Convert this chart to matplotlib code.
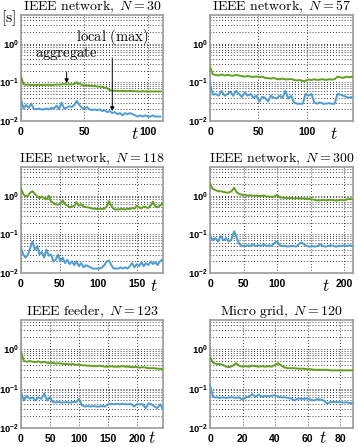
import matplotlib
matplotlib.use('Agg')
from matplotlib import pyplot as plt
from matplotlib.ticker import LogLocator, NullFormatter, FixedLocator

plt.rcParams['mathtext.fontset'] = 'cm'
plt.rcParams['font.family'] = ['Liberation Sans', 'DejaVu Sans']

# --- Data

TITLES = [r'$\mathrm{IEEE\ network,}\ N = 30$', r'$\mathrm{IEEE\ network,}\ N = 57$',
          r'$\mathrm{IEEE\ network,}\ N = 118$', r'$\mathrm{IEEE\ network,}\ N = 300$',
          r'$\mathrm{IEEE\ feeder,}\ N = 123$', r'$\mathrm{Micro\ grid,}\ N = 120$']

XMAX = [112, 148, 184, 213, 245, 88]
XTICKS = [[0, 50, 100], [0, 50, 100], [0, 50, 100, 150], [0, 50, 100, 150, 200],
          [0, 50, 100, 150, 200], [0, 20, 40, 60, 80]]
XTICKLABELS = [['0', '50', '100'], ['0', '50', '100'], ['0', '50', '100', '150'],
               ['0', '50', '100', '', '200'], ['0', '50', '100', '150', '200'],
               ['0', '20', '40', '60', '80']]
YTICKLABELS = [r'$\mathdefault{10^{-2}}$', r'$\mathdefault{10^{-1}}$', r'$\mathdefault{10^{0}}$']

# panel 1: IEEE network N=30
t1 = list(range(0, 112, 2))
agg1 = [0.14, 0.09, 0.086, 0.088, 0.085, 0.086, 0.085, 0.087, 0.085, 0.086, 0.086, 0.087, 0.085, 0.086,
        0.088, 0.087, 0.088, 0.09, 0.088, 0.089, 0.088, 0.09, 0.1, 0.092, 0.086, 0.084, 0.083, 0.082,
        0.08, 0.081, 0.078, 0.077, 0.077, 0.072, 0.07, 0.063, 0.061, 0.06, 0.06, 0.059, 0.06, 0.059,
        0.059, 0.06, 0.059, 0.059, 0.058, 0.058, 0.059, 0.058, 0.058, 0.058, 0.058, 0.058, 0.058, 0.058]
loc1 = [0.036, 0.021, 0.026, 0.022, 0.028, 0.021, 0.02, 0.021, 0.02, 0.02, 0.021, 0.02, 0.022, 0.021,
        0.025, 0.02, 0.03, 0.021, 0.022, 0.024, 0.023, 0.026, 0.033, 0.026, 0.022, 0.021, 0.023, 0.02,
        0.019, 0.02, 0.019, 0.02, 0.018, 0.019, 0.017, 0.018, 0.016, 0.017, 0.015, 0.016, 0.014, 0.016,
        0.015, 0.016, 0.015, 0.014, 0.013, 0.014, 0.013, 0.014, 0.013, 0.013, 0.014, 0.013, 0.013, 0.013]

# panel 2: IEEE network N=57
t2 = list(range(0, 148, 3))
agg2 = [0.25, 0.16, 0.155, 0.15, 0.16, 0.15, 0.155, 0.15, 0.148, 0.155, 0.15, 0.145, 0.14, 0.145,
        0.14, 0.138, 0.142, 0.135, 0.14, 0.13, 0.128, 0.125, 0.13, 0.122, 0.12, 0.125, 0.118, 0.12,
        0.122, 0.115, 0.112, 0.115, 0.108, 0.11, 0.118, 0.115, 0.12, 0.115, 0.118, 0.12, 0.115, 0.12,
        0.118, 0.12, 0.14, 0.135, 0.13, 0.14, 0.135, 0.14]
loc2 = [0.09, 0.048, 0.05, 0.045, 0.06, 0.045, 0.05, 0.058, 0.045, 0.06, 0.05, 0.042, 0.055, 0.045,
        0.05, 0.04, 0.045, 0.032, 0.042, 0.04, 0.032, 0.045, 0.04, 0.038, 0.045, 0.04, 0.06, 0.038,
        0.045, 0.03, 0.028, 0.028, 0.028, 0.05, 0.045, 0.05, 0.03, 0.028, 0.03, 0.028, 0.028, 0.029,
        0.028, 0.028, 0.05, 0.048, 0.045, 0.042, 0.04, 0.042]

# panel 3: IEEE network N=118
t3 = list(range(0, 184, 3))
agg3 = [1.5, 1.1, 0.95, 1.0, 1.2, 1.3, 1.1, 0.95, 0.85, 0.95, 0.85, 0.8, 1.0, 0.7, 0.65, 0.6,
        0.58, 0.62, 0.75, 0.6, 0.55, 0.5, 0.52, 0.55, 0.68, 0.55, 0.6, 0.52, 0.5, 0.5, 0.48, 0.46,
        0.46, 0.45, 0.46, 0.45, 0.46, 0.52, 0.72, 0.55, 0.45, 0.44, 0.44, 0.45, 0.45, 0.44, 0.46,
        0.45, 0.48, 0.46, 0.55, 0.5, 0.47, 0.52, 0.5, 0.48, 0.55, 0.7, 0.52, 0.5, 0.55, 0.62]
loc3 = [0.045, 0.03, 0.025, 0.03, 0.045, 0.065, 0.04, 0.05, 0.03, 0.035, 0.025, 0.04, 0.028, 0.03,
        0.02, 0.022, 0.03, 0.02, 0.025, 0.018, 0.022, 0.017, 0.02, 0.016, 0.02, 0.015, 0.018, 0.014,
        0.016, 0.015, 0.014, 0.013, 0.013, 0.013, 0.013, 0.014, 0.016, 0.02, 0.021, 0.016, 0.013,
        0.013, 0.013, 0.014, 0.013, 0.014, 0.013, 0.015, 0.018, 0.014, 0.017, 0.015, 0.019, 0.015,
        0.018, 0.016, 0.02, 0.017, 0.019, 0.016, 0.02, 0.022]

# panel 4: IEEE network N=300
t4 = list(range(0, 213, 4))
agg4 = [2.0, 1.5, 1.4, 1.3, 1.3, 1.25, 1.2, 1.2, 1.3, 1.6, 1.2, 1.1, 1.05, 1.05, 1.0, 1.02, 1.0,
        1.0, 0.98, 0.98, 1.0, 0.95, 0.95, 0.93, 0.95, 1.05, 0.9, 0.88, 0.88, 0.86, 0.87, 0.85, 0.85,
        0.86, 0.84, 0.85, 0.82, 0.82, 0.8, 0.78, 0.75, 0.76, 0.78, 0.76, 0.77, 0.78, 0.76, 0.75,
        0.76, 0.78, 0.76, 0.8, 0.82, 0.8]
loc4 = [0.09, 0.07, 0.08, 0.065, 0.09, 0.07, 0.08, 0.065, 0.075, 0.12, 0.08, 0.055, 0.05, 0.05,
        0.052, 0.05, 0.055, 0.05, 0.052, 0.05, 0.055, 0.05, 0.052, 0.05, 0.06, 0.065, 0.052, 0.05,
        0.05, 0.048, 0.05, 0.05, 0.048, 0.055, 0.062, 0.055, 0.05, 0.048, 0.05, 0.048, 0.05, 0.055,
        0.05, 0.048, 0.05, 0.052, 0.05, 0.048, 0.05, 0.05, 0.052, 0.05, 0.052, 0.05]

# panel 5: IEEE feeder N=123
t5 = list(range(0, 246, 5))
agg5 = [0.85, 0.5, 0.48, 0.5, 0.48, 0.47, 0.49, 0.46, 0.48, 0.45, 0.44, 0.45, 0.43, 0.44, 0.43,
        0.42, 0.42, 0.41, 0.42, 0.4, 0.41, 0.39, 0.39, 0.38, 0.38, 0.37, 0.37, 0.38, 0.37, 0.36,
        0.36, 0.37, 0.36, 0.36, 0.36, 0.37, 0.36, 0.36, 0.35, 0.35, 0.35, 0.34, 0.35, 0.34, 0.33,
        0.33, 0.33, 0.32, 0.32, 0.31]
loc5 = [0.08, 0.05, 0.065, 0.055, 0.06, 0.05, 0.06, 0.055, 0.075, 0.05, 0.06, 0.045, 0.045, 0.046,
        0.044, 0.045, 0.045, 0.044, 0.046, 0.045, 0.055, 0.038, 0.035, 0.036, 0.035, 0.036, 0.035,
        0.035, 0.036, 0.035, 0.04, 0.041, 0.04, 0.041, 0.04, 0.041, 0.04, 0.04, 0.041, 0.035, 0.04,
        0.04, 0.04, 0.032, 0.042, 0.04, 0.035, 0.032, 0.04, 0.03]

# panel 6: Micro grid N=120
t6 = list(range(0, 89, 2))
agg6 = [0.62, 0.45, 0.42, 0.42, 0.4, 0.36, 0.35, 0.38, 0.44, 0.38, 0.36, 0.37, 0.36, 0.38, 0.37,
        0.36, 0.37, 0.36, 0.37, 0.36, 0.4, 0.44, 0.38, 0.34, 0.33, 0.33, 0.33, 0.32, 0.32, 0.32,
        0.31, 0.31, 0.3, 0.3, 0.3, 0.3, 0.3, 0.29, 0.29, 0.29, 0.29, 0.29, 0.29, 0.29, 0.29]
loc6 = [0.12, 0.06, 0.06, 0.058, 0.06, 0.058, 0.06, 0.06, 0.058, 0.06, 0.052, 0.06, 0.062, 0.072,
        0.062, 0.07, 0.062, 0.065, 0.064, 0.066, 0.068, 0.062, 0.06, 0.06, 0.058, 0.056, 0.05,
        0.056, 0.055, 0.055, 0.056, 0.052, 0.05, 0.054, 0.052, 0.05, 0.042, 0.045, 0.046, 0.045,
        0.046, 0.044, 0.045, 0.043, 0.043]

TIMES = [t1, t2, t3, t4, t5, t6]
AGGREGATE = [agg1, agg2, agg3, agg4, agg5, agg6]
LOCAL = [loc1, loc2, loc3, loc4, loc5, loc6]

# x position (pixels) of the 't' label in each panel
T_LABEL_X = [135, 334, 154, 326, 152, 323]

GREEN = '#62a11f'
BLUE = '#4c9dd6'

# --- Layout in pixels

W, H = 358, 447
COLS = [(21, 163), (210, 353)]
ROWS = [(15, 121), (167, 273), (320, 428)]
# gap (pixels) between the axes bottom and the centre of the 't' label, per row
T_LABEL_GAP = [13, 13, 10]


def main():
    fig = plt.figure(figsize=(W / 100, H / 100), dpi=100)

    for i in range(6):
        (x0, x1) = COLS[i % 2]
        (y0, y1) = ROWS[i // 2]
        ax = fig.add_axes([x0 / W, 1 - y1 / H, (x1 - x0) / W, (y1 - y0) / H])

        ax.plot(TIMES[i], AGGREGATE[i], color=GREEN, lw=1.4, zorder=3)
        ax.plot(TIMES[i], LOCAL[i], color=BLUE, lw=1.4, zorder=3)

        ax.set_yscale('log')
        ax.set_ylim(1e-2, 5.5)
        ax.set_xlim(0, XMAX[i])
        ax.yaxis.set_major_locator(FixedLocator([1e-2, 1e-1, 1e0]))
        ax.yaxis.set_minor_locator(LogLocator(base=10, subs=[2, 3, 4, 5, 6, 7, 8, 9], numticks=20))
        ax.yaxis.set_minor_formatter(NullFormatter())
        ax.set_yticklabels(YTICKLABELS, fontweight='bold', fontsize=6.8)
        ax.set_xticks(XTICKS[i])
        ax.set_xticklabels(XTICKLABELS[i], fontweight='bold', fontsize=7.5)

        ax.grid(True, which='both', axis='y', color='k', lw=0.6, ls=(0, (1, 2.5)), zorder=1)
        ax.grid(True, which='major', axis='x', color='k', lw=0.6, ls=(0, (1, 2.5)), zorder=1)
        ax.tick_params(which='both', length=0)
        ax.tick_params(axis='y', pad=1.5)
        ax.tick_params(axis='x', pad=4)

        for sp in ax.spines.values():
            sp.set_color('#9a9a9a')
            sp.set_linewidth(1.2)

        ax.set_title(TITLES[i], fontsize=10, pad=2)
        fig.text(T_LABEL_X[i] / W, 1 - (y1 + T_LABEL_GAP[i // 2]) / H, r'$t$', fontsize=12.5,
                 ha='center', va='center')

        if i == 0:
            fig.text(9 / W, 1 - 18 / H, r'$[\mathrm{s}]$', fontsize=11.5, ha='center', va='center')
            ax.annotate(r'$\mathrm{aggregate}$', xy=(36, 0.095), xytext=(36, 0.55),
                        fontsize=10.5, ha='center', va='center',
                        arrowprops=dict(arrowstyle='-|>', color='k', lw=0.7,
                                        mutation_scale=6, shrinkA=5, shrinkB=0))
            ax.annotate(r'$\mathrm{local\ (max)}$', xy=(72, 0.018), xytext=(72, 1.5),
                        fontsize=10.5, ha='center', va='center',
                        arrowprops=dict(arrowstyle='-|>', color='k', lw=0.7,
                                        mutation_scale=6, shrinkA=6, shrinkB=0))

    plt.savefig('out.png', dpi=100)


if __name__ == '__main__':
    main()
